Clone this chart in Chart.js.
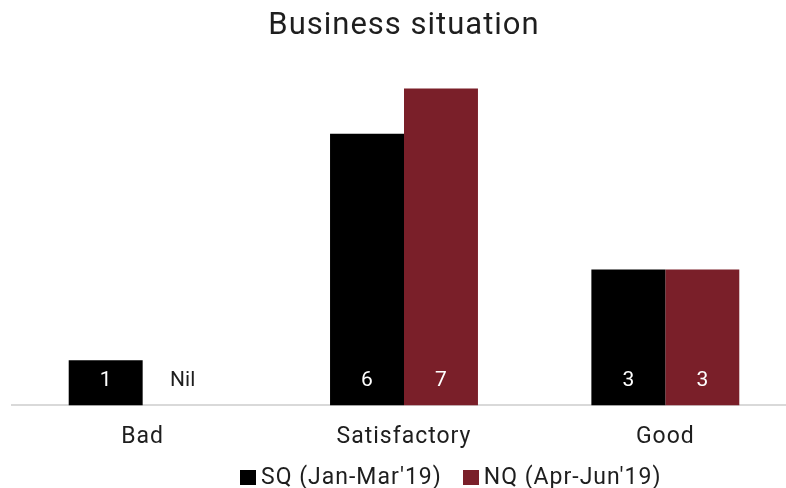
<!DOCTYPE html>
<html>
<head>
<meta charset="utf-8">
<script src="https://cdn.jsdelivr.net/npm/chart.js@4/dist/chart.umd.min.js"></script>
<style>
  html, body { margin: 0; padding: 0; background: #fff; overflow: hidden; }
  #wrap { position: relative; width: 786px; height: 488px; overflow: hidden; }
  #legend { position: absolute; left: 240px; top: 462px; display: flex; align-items: center;
            font-family: Roboto, "Liberation Sans", sans-serif; font-size: 23px; letter-spacing: 1px;
            color: #1e1e1e; white-space: nowrap; line-height: 30px; }
  #legend .item { display: flex; align-items: center; margin-right: 21px; }
  #legend .sw { width: 16px; height: 15px; margin-right: 5px; }
</style>
</head>
<body>
<div id="wrap">
  <canvas id="c" width="800" height="488"></canvas>
  <div id="legend"></div>
</div>
<script>
const categories = ["Bad", "Satisfactory", "Good"];
const seriesNames = ["SQ (Jan-Mar'19)", "NQ (Apr-Jun'19)"];
const sqValues = [1, 6, 3];
const nqValues = [0, 7, 3];
const seriesColors = ["#000000", "#7a1f29"];

const FONT = 'Roboto, "Liberation Sans", sans-serif';

// Slightly open tracking for all canvas text
const tracking = {
  id: 'tracking',
  beforeLayout(chart) { chart.ctx.letterSpacing = '1px'; },
  beforeDraw(chart) { chart.ctx.letterSpacing = '1px'; }
};

// Value labels drawn inside each bar near its base; empty bars read "Nil"
const barLabels = {
  id: 'barLabels',
  afterDatasetsDraw(chart) {
    const ctx = chart.ctx;
    ctx.save();
    ctx.letterSpacing = '0px';
    ctx.font = '21px ' + FONT;
    ctx.textAlign = 'center';
    ctx.textBaseline = 'middle';
    chart.data.datasets.forEach((ds, di) => {
      chart.getDatasetMeta(di).data.forEach((bar, i) => {
        const v = ds.data[i];
        const zero = v === 0;
        ctx.fillStyle = zero ? '#1e1e1e' : '#ffffff';
        ctx.fillText(zero ? 'Nil' : String(v), bar.x + (zero ? 3 : 0), bar.base - 25);
      });
    });
    ctx.restore();
  }
};

new Chart(document.getElementById('c'), {
  type: 'bar',
  data: {
    labels: categories,
    datasets: [
      { label: seriesNames[0], data: sqValues, backgroundColor: seriesColors[0] },
      { label: seriesNames[1], data: nqValues, backgroundColor: seriesColors[1] }
    ]
  },
  options: {
    responsive: false,
    animation: false,
    layout: { padding: { left: 12, right: 4, top: 0, bottom: 27 } },
    datasets: { bar: { barPercentage: 1, categoryPercentage: 0.566 } },
    plugins: {
      legend: { display: false },
      tooltip: { enabled: false },
      title: {
        display: true,
        text: 'Business situation',
        color: '#1e1e1e',
        font: { family: FONT, size: 31, weight: 'normal', lineHeight: 1.2 },
        padding: { top: 8, bottom: -2 }
      }
    },
    scales: {
      x: {
        grid: { display: false },
        border: { color: '#d9d9d9', width: 2 },
        ticks: { color: '#1e1e1e', font: { family: FONT, size: 23 }, padding: 10 }
      },
      y: { display: false, min: 0, max: 8 }
    }
  },
  plugins: [tracking, barLabels]
});

// Legend entries
const legend = document.getElementById('legend');
seriesNames.forEach((name, i) => {
  const item = document.createElement('div');
  item.className = 'item';
  const sw = document.createElement('span');
  sw.className = 'sw';
  sw.style.background = seriesColors[i];
  const t = document.createElement('span');
  t.textContent = name;
  item.appendChild(sw);
  item.appendChild(t);
  legend.appendChild(item);
});
</script>
</body>
</html>
